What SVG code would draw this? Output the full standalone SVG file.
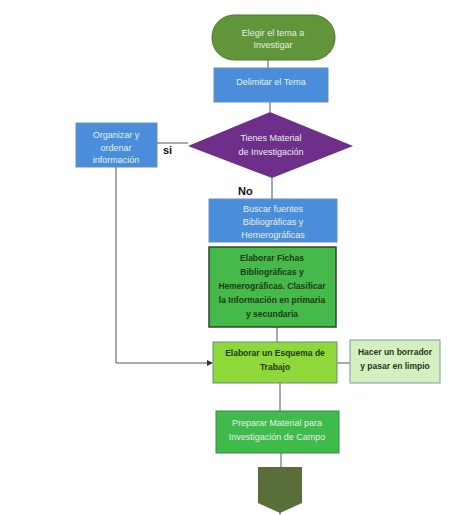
<svg xmlns="http://www.w3.org/2000/svg" width="474" height="515" viewBox="0 0 474 515">
<style>
.t{font-family:"Liberation Sans",Arial,sans-serif;font-size:9px;text-anchor:middle;fill:#e4f0e4}
.d{font-family:"Liberation Sans",Arial,sans-serif;font-size:8.5px;font-weight:bold;text-anchor:middle;fill:#1f3a1a}
.l{font-family:"Liberation Sans",Arial,sans-serif;font-size:11px;font-weight:bold;fill:#111}
.c{stroke:#555;stroke-width:1;fill:none}
.blue{fill:#4a8edb;stroke:#6a8fb5;stroke-width:1}
</style>
<defs>
<marker id="ah" markerWidth="6" markerHeight="6" refX="5" refY="3" orient="auto" markerUnits="userSpaceOnUse">
<path d="M0,0 L6,3 L0,6 z" fill="#333"/>
</marker>
</defs>
<rect width="474" height="515" fill="#fff"/>
<g id="connectors">
<line class="c" x1="268" y1="60" x2="268" y2="68"/>
<line class="c" x1="270" y1="102" x2="270" y2="112"/>
<line class="c" x1="157" y1="143" x2="188" y2="143"/>
<line class="c" x1="272" y1="178" x2="272" y2="199"/>
<polyline class="c" points="116,167 116,363 212,363" marker-end="url(#ah)"/>
<line class="c" x1="277" y1="327" x2="277" y2="342"/>
<line class="c" x1="337" y1="363" x2="350" y2="363"/>
<line class="c" x1="280" y1="383" x2="280" y2="411"/>
<line class="c" x1="281" y1="453" x2="281" y2="467"/>
<line class="c" x1="280" y1="510" x2="280" y2="515"/>
<text class="l" x="163" y="154">si</text>
<text class="l" x="238" y="195">No</text>
</g>
<g id="n1">
<rect x="212" y="15" width="123" height="45" rx="22" fill="#62953a" stroke="#4d7a30"/>
<text class="t" x="273" y="36">Elegir el tema  a</text>
<text class="t" x="273" y="48">Investigar</text>
</g>
<g id="n2">
<rect class="blue" x="214" y="68" width="114" height="34"/>
<text class="t" x="271" y="85">Delimitar el Tema</text>
</g>
<g id="n3">
<polygon points="270,112 353,146 272,178 188,146" fill="#6e2f8a"/>
<text class="t" x="271" y="141">Tienes Material</text>
<text class="t" x="271" y="155">de Investigación</text>
</g>
<g id="n4">
<rect class="blue" x="76" y="123" width="81" height="44"/>
<text class="t" x="116" y="138">Organizar y</text>
<text class="t" x="116" y="151">ordenar</text>
<text class="t" x="116" y="163">información</text>
</g>
<g id="n5">
<rect class="blue" x="209" y="199" width="128" height="43"/>
<text class="t" x="273" y="212">Buscar fuentes</text>
<text class="t" x="273" y="225">Bibliográficas y</text>
<text class="t" x="273" y="238">Hemerográficas</text>
</g>
<g id="n6">
<rect x="209" y="247" width="127" height="80" fill="#45b94a" stroke="#2c4a2c" stroke-width="1.5"/>
<text class="d" x="272" y="261">Elaborar Fichas</text>
<text class="d" x="272" y="275">Bibliográficas y</text>
<text class="d" x="272" y="289">Hemerográficas. Clasificar</text>
<text class="d" x="272" y="303">la Información en primaria</text>
<text class="d" x="272" y="317">y secundaria</text>
</g>
<g id="n7">
<rect x="213" y="342" width="124" height="41" fill="#8fd83a" stroke="#6a8a8a"/>
<text class="d" x="275" y="356">Elaborar un Esquema de</text>
<text class="d" x="275" y="370">Trabajo</text>
</g>
<g id="n8">
<rect x="350" y="340" width="90" height="43" fill="#d6efc0" stroke="#7a9aa0"/>
<text class="d" x="395" y="355">Hacer un borrador</text>
<text class="d" x="395" y="369">y pasar en limpio</text>
</g>
<g id="n9">
<rect x="216" y="411" width="123" height="42" fill="#3fbb4c" stroke="#3a8a4a"/>
<text class="t" x="277" y="426">Preparar Material para</text>
<text class="t" x="277" y="440">Investigación de Campo</text>
</g>
<g id="n10">
<polygon points="258,467 302,467 302,503 280,513 258,503" fill="#5a6e3a"/>
</g>
</svg>
